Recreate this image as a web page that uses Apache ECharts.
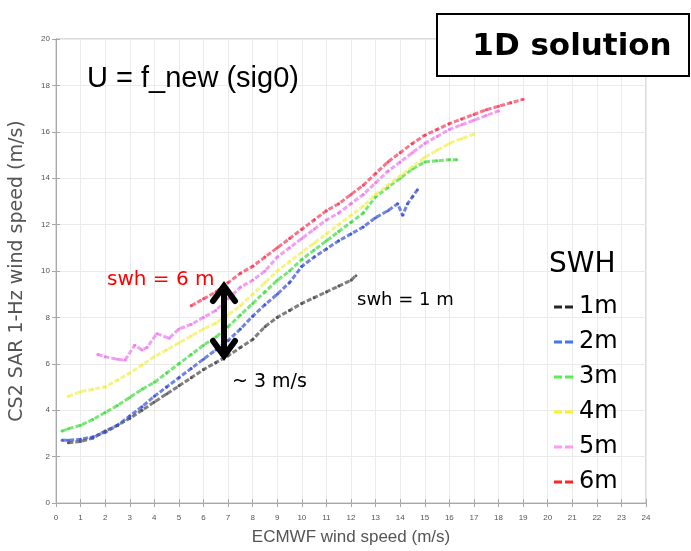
<!DOCTYPE html>
<html>
<head>
<meta charset="utf-8">
<script src="https://cdn.jsdelivr.net/npm/echarts@6/dist/echarts.min.js"></script>
<style>
  html, body { margin: 0; padding: 0; background: #fff; }
  #chart { width: 691px; height: 551px; }
</style>
</head>
<body>
<div id="chart"></div>
<script>
// Wind speed retrieval curves binned by significant wave height (SWH)
const swhNames = ['1m', '2m', '3m', '4m', '5m', '6m'];
const swhColors = ['#000000', '#1f5cff', '#33ee33', '#ffee00', '#ff88ee', '#ff0000'];
const lineColors = ['#4a4a4a', '#3450d8', '#3fdc3f', '#f2ee55', '#ee77ee', '#f83a5a'];

// [ECMWF wind speed, CS2 SAR wind speed] pairs per SWH class
const swh1m = [[0.5,2.6],[1,2.65],[1.5,2.8],[2,3.1],[2.5,3.35],[3,3.65],[3.5,4.0],[4,4.35],[4.5,4.7],[5,5.05],[5.5,5.4],[6,5.75],[6.5,6.05],[7,6.35],[7.5,6.7],[8,7.05],[8.5,7.6],[9,8.0],[9.5,8.3],[10,8.6],[10.5,8.85],[11,9.1],[11.5,9.35],[12,9.6],[12.2,9.8]];
const swh2m = [[0.25,2.7],[0.5,2.7],[1,2.75],[1.5,2.85],[2,3.05],[2.5,3.35],[3,3.75],[3.5,4.15],[4,4.6],[4.5,5.0],[5,5.4],[5.5,5.8],[6,6.2],[6.5,6.6],[7,7.0],[7.5,7.5],[8,8.05],[8.5,8.55],[9,9.0],[9.5,9.5],[10,10.2],[10.5,10.6],[11,10.95],[11.5,11.3],[12,11.6],[12.5,11.9],[13,12.3],[13.5,12.6],[13.9,12.9],[14.1,12.4],[14.3,12.9],[14.5,13.2],[14.7,13.5]];
const swh3m = [[0.25,3.1],[0.5,3.2],[1,3.35],[1.5,3.6],[2,3.9],[2.5,4.2],[3,4.55],[3.5,4.9],[4,5.2],[4.5,5.6],[5,6.0],[5.5,6.4],[6,6.8],[6.5,7.15],[7,7.6],[7.5,8.1],[8,8.6],[8.5,9.1],[9,9.6],[9.5,10.0],[10,10.5],[10.5,10.9],[11,11.3],[11.5,11.7],[12,12.1],[12.5,12.5],[13,13.2],[13.5,13.6],[14,14.0],[14.5,14.4],[15,14.7],[15.5,14.75],[16,14.8],[16.3,14.8]];
const swh4m = [[0.5,4.6],[1,4.8],[1.5,4.9],[2,5.0],[2.5,5.3],[3,5.6],[3.5,5.95],[4,6.3],[4.5,6.6],[5,6.9],[5.5,7.2],[6,7.5],[6.5,7.75],[7,8.1],[7.5,8.5],[8,9.0],[8.5,9.5],[9,10.0],[9.5,10.4],[10,10.8],[10.5,11.2],[11,11.6],[11.5,12.0],[12,12.4],[12.5,12.8],[13,13.3],[13.5,13.7],[14,14.1],[14.5,14.5],[15,14.9],[15.5,15.2],[16,15.5],[16.5,15.7],[17,15.9]];
const swh5m = [[1.7,6.4],[2,6.3],[2.5,6.2],[2.8,6.15],[3.2,6.8],[3.5,6.6],[3.7,6.7],[4.1,7.3],[4.6,7.1],[5,7.5],[5.5,7.7],[6,8.0],[6.5,8.3],[7,8.8],[7.5,9.3],[8,9.6],[8.5,10.0],[9,10.6],[9.5,11.0],[10,11.4],[10.5,11.8],[11,12.2],[11.5,12.5],[12,12.9],[12.5,13.3],[13,13.8],[13.5,14.3],[14,14.7],[14.5,15.1],[15,15.5],[15.5,15.8],[16,16.1],[16.5,16.3],[17,16.5],[17.5,16.7],[18,16.9]];
const swh6m = [[5.5,8.5],[6,8.8],[6.5,9.1],[7,9.5],[7.5,9.9],[8,10.2],[8.5,10.6],[9,11.0],[9.5,11.4],[10,11.8],[10.5,12.2],[11,12.6],[11.5,12.9],[12,13.3],[12.5,13.7],[13,14.2],[13.5,14.7],[14,15.1],[14.5,15.5],[15,15.85],[15.5,16.1],[16,16.35],[16.5,16.55],[17,16.75],[17.5,16.95],[18,17.1],[18.5,17.25],[19,17.4]];
const swhData = [swh1m, swh2m, swh3m, swh4m, swh5m, swh6m];

const chart = echarts.init(document.getElementById('chart'), null, { renderer: 'canvas' });

const series = swhNames.map((name, i) => ({
  name: name,
  type: 'line',
  xAxisIndex: 0,
  yAxisIndex: 0,
  data: swhData[i],
  symbol: 'circle',
  symbolSize: 3,
  showSymbol: true,
  itemStyle: { color: lineColors[i], opacity: 0.85 },
  lineStyle: { color: lineColors[i], width: 3, type: [5, 2], opacity: 0.7 },
  z: 2 + i,
  animation: false
}));

const dashIcon = 'path://M0,0h8v3h-8z M11,0h8v3h-8z';
const sans = 'Liberation Sans, Arial, sans-serif';
const wide = 'DejaVu Sans, sans-serif';
const tickLine = { color: '#a8a8a8' };

chart.setOption({
  backgroundColor: '#ffffff',
  animation: false,
  grid: { left: 55, right: 45, top: 39, bottom: 44, show: true, borderColor: '#b8b8b8', borderWidth: 1 },
  xAxis: [{
    type: 'value', min: 0, max: 24, interval: 1,
    name: 'ECMWF wind speed (m/s)', nameLocation: 'middle', nameGap: 26,
    nameTextStyle: { fontFamily: sans, fontSize: 17, color: '#555' },
    axisLine: { lineStyle: tickLine },
    axisTick: { inside: true, length: 4, lineStyle: tickLine },
    axisLabel: { fontFamily: sans, fontSize: 8, color: '#555', margin: 11 },
    splitLine: { show: true, lineStyle: { color: '#ebebeb' } }
  }, {
    type: 'value', min: 0, max: 24, interval: 1, position: 'top',
    axisLine: { show: true, lineStyle: tickLine },
    axisTick: { show: true, inside: true, length: 4, lineStyle: tickLine },
    axisLabel: { show: false }, splitLine: { show: false }
  }],
  yAxis: [{
    type: 'value', min: 0, max: 20, interval: 2,
    name: 'CS2 SAR 1-Hz wind speed (m/s)', nameLocation: 'middle', nameGap: 29,
    nameTextStyle: { fontFamily: wide, fontSize: 19, color: '#555' },
    axisLine: { show: true, lineStyle: tickLine },
    axisTick: { show: true, inside: true, length: 4, lineStyle: tickLine },
    axisLabel: { fontFamily: sans, fontSize: 8, color: '#555', margin: 6 },
    splitLine: { show: true, lineStyle: { color: '#ebebeb' } }
  }, {
    type: 'value', min: 0, max: 20, interval: 2, position: 'right',
    axisLine: { show: true, lineStyle: tickLine },
    axisTick: { show: true, inside: true, length: 4, lineStyle: tickLine },
    axisLabel: { show: false }, splitLine: { show: false }
  }],
  legend: {
    orient: 'vertical',
    left: 549, top: 290,
    itemWidth: 19, itemHeight: 3, itemGap: 11,
    icon: dashIcon,
    data: swhNames.map((n, i) => ({ name: n, itemStyle: { color: swhColors[i] }, lineStyle: { color: swhColors[i] } })),
    textStyle: { fontFamily: wide, fontSize: 24, color: '#000', lineHeight: 24, padding: [0, 0, 0, 1] },
    selectedMode: false
  },
  graphic: [
    {
      type: 'rect', shape: { x: 437, y: 14, width: 252, height: 62 },
      style: { fill: '#fff', stroke: '#000', lineWidth: 2 }, z: 100
    },
    {
      type: 'text', x: 572, y: 47, z: 101,
      style: { text: '1D solution', fontFamily: wide, fontWeight: 'bold', fontSize: 31, fill: '#000', textAlign: 'center', textVerticalAlign: 'middle' }
    },
    {
      type: 'text', x: 87, y: 79, z: 101,
      style: { text: 'U = f_new (sig0)', fontFamily: sans, fontSize: 29, fill: '#000', textVerticalAlign: 'middle' }
    },
    {
      type: 'text', x: 107, y: 280, z: 101,
      style: { text: 'swh = 6 m', fontFamily: wide, fontSize: 20, fill: '#ff0000', textVerticalAlign: 'middle' }
    },
    {
      type: 'text', x: 357, y: 300, z: 101,
      style: { text: 'swh = 1 m', fontFamily: wide, fontSize: 18, fill: '#000', textVerticalAlign: 'middle' }
    },
    {
      type: 'text', x: 232, y: 382, z: 101,
      style: { text: '~ 3 m/s', fontFamily: wide, fontSize: 19, fill: '#000', textVerticalAlign: 'middle' }
    },
    {
      type: 'text', x: 549, y: 265, z: 101,
      style: { text: 'SWH', fontFamily: wide, fontSize: 28, fill: '#000', textVerticalAlign: 'middle' }
    },
    // double-headed arrow spanning the SWH spread
    {
      type: 'line', z: 101,
      shape: { x1: 224, y1: 287, x2: 224, y2: 355 },
      style: { stroke: '#000', lineWidth: 6 }
    },
    {
      type: 'polyline', z: 101,
      shape: { points: [[213, 301], [224, 286], [235, 301]] },
      style: { stroke: '#000', lineWidth: 6, fill: null, lineJoin: 'miter', lineCap: 'round' }
    },
    {
      type: 'polyline', z: 101,
      shape: { points: [[213, 341], [224, 356], [235, 341]] },
      style: { stroke: '#000', lineWidth: 6, fill: null, lineJoin: 'miter', lineCap: 'round' }
    }
  ],
  series: series
});
</script>
</body>
</html>
